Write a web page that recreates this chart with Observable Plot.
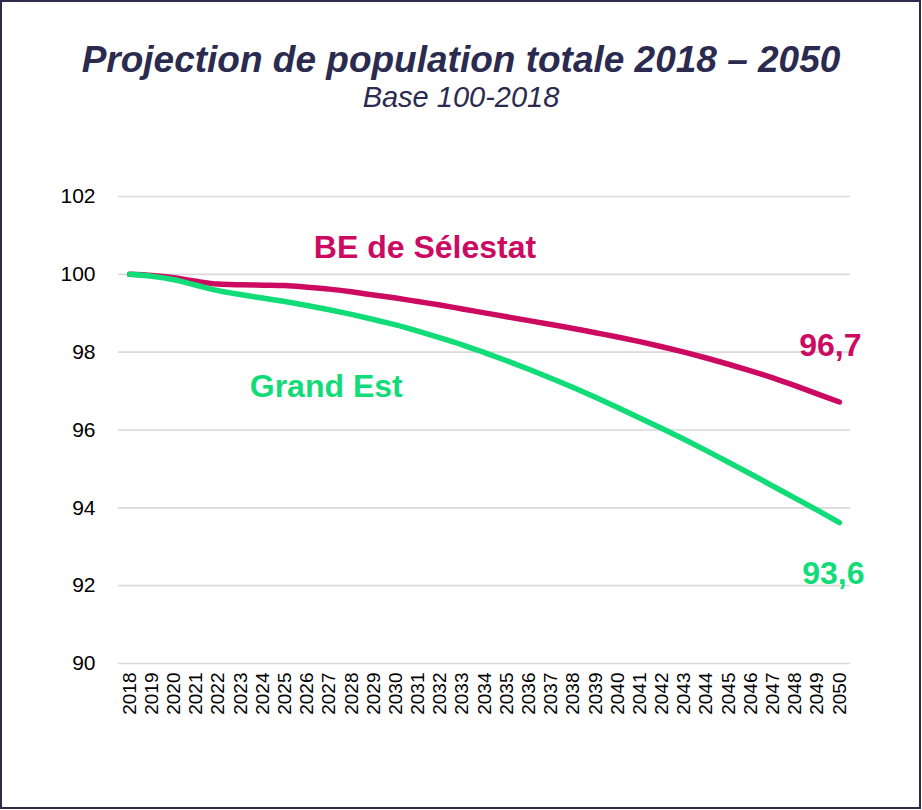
<!DOCTYPE html>
<html>
<head>
<meta charset="utf-8">
<script src="https://cdn.jsdelivr.net/npm/d3@7"></script>
<script src="https://cdn.jsdelivr.net/npm/@observablehq/plot@0.6"></script>
<style>
  html, body { margin: 0; padding: 0; background: #ffffff; }
  body { width: 922px; height: 810px; position: relative; overflow: hidden; font-family: "Liberation Sans", Arial, sans-serif; }
  #frame { position: absolute; left: 0; top: 0; width: 921px; height: 809px; box-sizing: border-box; border: 2px solid #2d2c4e; pointer-events: none; }
  #title { position: absolute; left: 0; width: 922px; top: 41px; text-align: center; font-size: 37px; line-height: 1; font-weight: bold; font-style: italic; color: #2b2a4f; }
  #subtitle { position: absolute; left: 0; width: 922px; top: 83px; text-align: center; font-size: 29px; line-height: 1; font-style: italic; color: #2b2a4f; }
  #chart { position: absolute; left: 0; top: 130px; }
</style>
</head>
<body>
<div id="title">Projection de population totale 2018 – 2050</div>
<div id="subtitle">Base 100-2018</div>
<div id="chart"></div>
<div id="frame"></div>
<script>
const years = [2018,2019,2020,2021,2022,2023,2024,2025,2026,2027,2028,2029,2030,2031,2032,2033,2034,2035,2036,2037,2038,2039,2040,2041,2042,2043,2044,2045,2046,2047,2048,2049,2050];
const selestat = [100.00,99.97,99.91,99.82,99.75,99.73,99.72,99.71,99.67,99.62,99.55,99.47,99.39,99.30,99.21,99.11,99.01,98.91,98.81,98.71,98.61,98.50,98.39,98.27,98.14,98.00,97.85,97.69,97.52,97.34,97.14,96.93,96.72];
const grandEst = [100.00,99.95,99.86,99.72,99.58,99.48,99.39,99.30,99.20,99.09,98.97,98.84,98.70,98.54,98.37,98.19,97.99,97.78,97.56,97.33,97.09,96.84,96.58,96.31,96.04,95.76,95.47,95.17,94.87,94.56,94.25,93.94,93.62];
const seriesNames = ["BE de Sélestat", "Grand Est"];
const seriesColors = ["#cc0a62", "#12dc78"];
const yTicks = [90,92,94,96,98,100,102];

const table = [];
seriesNames.forEach((name, si) => {
  const vals = si === 0 ? selestat : grandEst;
  years.forEach((yr, i) => table.push({series: name, year: yr, value: vals[i]}));
});
const byName = name => table.filter(d => d.series === name);
const fmt = v => v.toFixed(1).replace(".", ",");
const lastOf = name => byName(name)[years.length - 1];
const at = (name, yr) => byName(name).find(d => d.year === yr);

const chart = Plot.plot({
  width: 922,
  height: 640,
  marginLeft: 118,
  marginRight: 72,
  marginTop: 66,
  marginBottom: 107,
  x: {domain: [2017.5, 2050.5]},
  y: {domain: [90, 102]},
  color: {domain: seriesNames, range: seriesColors},
  style: {fontFamily: "\"Liberation Sans\", Arial, sans-serif", color: "#000", background: "transparent"},
  marks: [
    Plot.ruleY(yTicks, {stroke: "#d9d9d9", strokeWidth: 1.6}),
    Plot.axisY({ticks: yTicks, tickSize: 0, tickPadding: 23, fontSize: 21, label: null, tickFormat: d => String(d)}),
    Plot.axisX({ticks: years, tickSize: 0, tickPadding: 9, tickRotate: -90, fontSize: 19, label: null, tickFormat: d => String(d)}),
    Plot.line(byName(seriesNames[0]), {x: "year", y: "value", stroke: "series", strokeWidth: 5.5, strokeLinecap: "round", strokeLinejoin: "round", curve: "monotone-x"}),
    Plot.line(byName(seriesNames[1]), {x: "year", y: "value", stroke: "series", strokeWidth: 5.5, strokeLinecap: "round", strokeLinejoin: "round", curve: "monotone-x"}),
    Plot.text([at(seriesNames[0], 2031)], {x: "year", y: "value", text: "series", fill: "series", dx: 7, dy: -54, fontSize: 32, fontWeight: "bold"}),
    Plot.text([at(seriesNames[1], 2027)], {x: "year", y: "value", text: "series", fill: "series", dx: -3, dy: 77, fontSize: 32, fontWeight: "bold"}),
    Plot.text([lastOf(seriesNames[0])], {x: "year", y: "value", text: d => fmt(d.value), fill: "series", dx: -9, dy: -56, fontSize: 32, fontWeight: "bold"}),
    Plot.text([lastOf(seriesNames[1])], {x: "year", y: "value", text: d => fmt(d.value), fill: "series", dx: -6, dy: 51, fontSize: 32, fontWeight: "bold"})
  ]
});
document.getElementById("chart").appendChild(chart);
</script>
</body>
</html>
